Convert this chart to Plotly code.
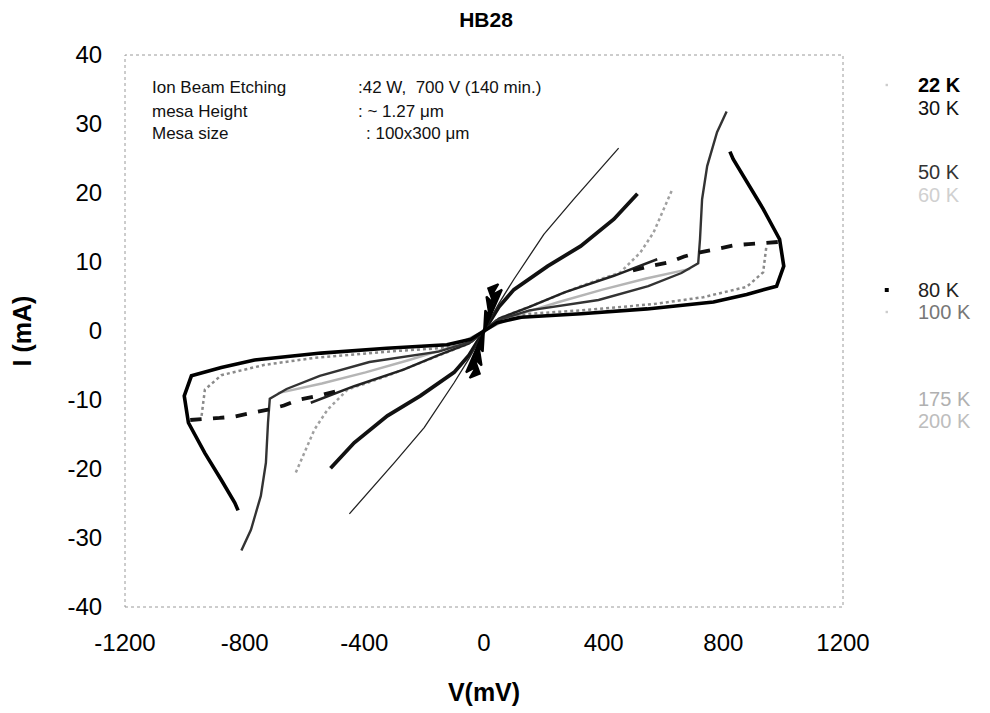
import plotly.graph_objects as go

# ---------------- data (positive sweep; negative branch is the mirror) -------------
V_22K = [0, 44, 124, 325, 545, 767, 878, 978, 1002, 988, 933, 878, 833, 822]
I_22K = [0, 1.2, 2.0, 2.5, 3.2, 4.2, 5.3, 6.5, 9.4, 13.3, 17.7, 21.6, 24.9, 26.0]

V_30K = [0, 40, 152, 383, 549, 660, 716, 722, 729, 746, 779, 811]
I_30K = [0, 1.5, 3.0, 4.5, 6.5, 8.4, 9.8, 13.3, 19.1, 23.9, 28.8, 31.8]

V_50K = [0, 50, 152, 269, 434, 579]
I_50K = [0, 1.8, 3.5, 5.6, 8.0, 10.4]

V_60K = [0, 60, 157, 323, 456, 523, 567, 600, 629]
I_60K = [0, 2.0, 3.6, 6.5, 8.5, 11.4, 14.3, 17.7, 20.5]

V_80K_low = [0, 60, 152, 327, 567, 733, 878, 933, 944]
I_80K_low = [0, 1.8, 2.5, 3.0, 3.9, 4.9, 6.4, 8.5, 12.3]
V_80K_up = [982, 933, 884, 835, 787, 722, 669, 622, 545, 474]
I_80K_up = [12.9, 12.8, 12.6, 12.4, 12.0, 11.4, 10.8, 10.0, 9.3, 8.5]

V_100K = [0, 50, 100, 213, 323, 434, 513]
I_100K = [0, 3.5, 6.0, 9.4, 12.3, 16.2, 19.9]

V_175K = [0, 100, 250, 396, 542, 689]
I_175K = [0, 2.2, 4.2, 6.0, 7.6, 9.0]

V_200K = [0, 50, 100, 200, 298, 379, 450]
I_200K = [0, 4.0, 7.5, 14.0, 19.0, 23.0, 26.5]

NOISE_V = [0, 4, 18, 8, 32, 14, 48, 26, 60, 0]
NOISE_I = [0, 3.0, 2.2, 5.0, 4.0, 6.2, 6.8, 5.2, 6.0, 0]

LEGEND_LABELS = ["22 K", "30 K", "50 K", "60 K", "80 K", "100 K", "175 K", "200 K"]

X_TICKS = [-1200, -800, -400, 0, 400, 800, 1200]
Y_TICKS = [-40, -30, -20, -10, 0, 10, 20, 30, 40]


def mirror(v, i):
    vv = [-a for a in reversed(v)] + list(v[1:])
    ii = [-a for a in reversed(i)] + list(i[1:])
    return vv, ii


fig = go.Figure()


def add(v, i, color, width, dash="solid", full=True, fill=False):
    if full:
        vv, ii = mirror(v, i)
        fig.add_trace(go.Scatter(x=vv, y=ii, mode="lines",
                                 line=dict(color=color, width=width, dash=dash),
                                 showlegend=False, hoverinfo="skip"))
    else:
        for s in (1, -1):
            fig.add_trace(go.Scatter(x=[s * a for a in v], y=[s * a for a in i], mode="lines",
                                     line=dict(color=color, width=width, dash=dash),
                                     fill="toself" if fill else None,
                                     fillcolor=color if fill else None,
                                     showlegend=False, hoverinfo="skip"))


add(V_175K, I_175K, "#b5b5b5", 2.5)
add(V_80K_low, I_80K_low, "#8a8a8a", 2.5, "dot")
add(V_60K, I_60K, "#a0a0a0", 2.5, "dot")
add(V_50K, I_50K, "#222222", 2.5)
add(V_100K, I_100K, "#111111", 3.8)
add(V_200K, I_200K, "#222222", 1.3)
add(V_30K, I_30K, "#333333", 2.4)
add(V_22K, I_22K, "#000000", 3.6)
add(V_80K_up, I_80K_up, "#111111", 3.8, "dash", full=False)
add(NOISE_V, NOISE_I, "#000000", 2, full=False, fill=True)

# ---------------- layout ----------------
OFF = 8                      # default page body margin
L, R, T, B = 121, 843, 55, 607   # plot area in screen pixels
W, H = 990 - OFF, 713 - OFF


def px(x):
    return (x - L) / (R - L)


def py(y):
    return (B - y) / (B - T)


font_main = "Liberation Sans, Arial, sans-serif"

fig.update_layout(
    width=W, height=H,
    margin=dict(l=L - OFF, r=W - (R - OFF), t=T - OFF, b=H - (B - OFF)),
    paper_bgcolor="white", plot_bgcolor="white",
    font=dict(family=font_main, color="#000"),
    title=dict(text="<b>HB28</b>", x=px(484), xref="paper", xanchor="center",
               y=1 - (20 - OFF) / H, yanchor="middle", font=dict(size=21)),
    showlegend=False,
)

fig.update_xaxes(range=[-1200, 1200], tickvals=X_TICKS, ticktext=[str(t) for t in X_TICKS],
                 showgrid=False, zeroline=False, showline=False,
                 ticks="outside", ticklen=14, tickcolor="rgba(0,0,0,0)",
                 tickfont=dict(size=24),
                 title=dict(text="<b>V(mV)</b>", font=dict(size=25), standoff=28))
fig.update_yaxes(range=[-40, 40], tickvals=Y_TICKS, ticktext=[str(t) for t in Y_TICKS],
                 showgrid=False, zeroline=False, showline=False,
                 ticks="outside", ticklen=17, tickcolor="rgba(0,0,0,0)",
                 tickfont=dict(size=24),
                 title=dict(text="<b>I (mA)</b>", font=dict(size=25), standoff=30))

# dotted plot border
fig.add_shape(type="rect", xref="paper", yref="paper", x0=0, x1=1, y0=0, y1=1,
              line=dict(color="#9a9a9a", width=1, dash="dot"))

# info text box
info_left = ["Ion Beam Etching", "mesa Height", "Mesa size"]
info_right = [":42 W,  700 V (140 min.)", ": ~ 1.27 \u03bcm", ": 100x300 \u03bcm"]
info_right_x = [353, 353, 361]
info_y = [87, 111, 134]
for k in range(3):
    fig.add_annotation(text=info_left[k], xref="paper", yref="paper",
                       x=px(146), y=py(info_y[k]), xanchor="left", yanchor="middle",
                       showarrow=False, font=dict(size=17, color="#111"))
    fig.add_annotation(text=info_right[k], xref="paper", yref="paper",
                       x=px(info_right_x[k]), y=py(info_y[k]), xanchor="left", yanchor="middle",
                       showarrow=False, font=dict(size=17, color="#111"))

# legend (as text labels)
leg_y = [85, 108, 172, 195, 290, 312, 399, 421]
leg_col = ["#000000", "#111111", "#333333", "#d0d0d0", "#222222", "#777777", "#b0b0b0", "#bdbdbd"]
for k, lab in enumerate(LEGEND_LABELS):
    txt = "<b>%s</b>" % lab if k == 0 else lab
    fig.add_annotation(text=txt, xref="paper", yref="paper", x=px(916), y=py(leg_y[k]),
                       xanchor="left", yanchor="middle", showarrow=False,
                       font=dict(size=20, color=leg_col[k]))

# small legend markers
for yy, col, s in [(85, "#cccccc", 1.2), (290, "#000000", 2.0), (312, "#cccccc", 1.2)]:
    fig.add_shape(type="rect", xref="paper", yref="paper",
                  x0=px(887 - s), x1=px(887 + s), y0=py(yy + s), y1=py(yy - s),
                  line=dict(width=0), fillcolor=col)

fig.write_html("out.html")
